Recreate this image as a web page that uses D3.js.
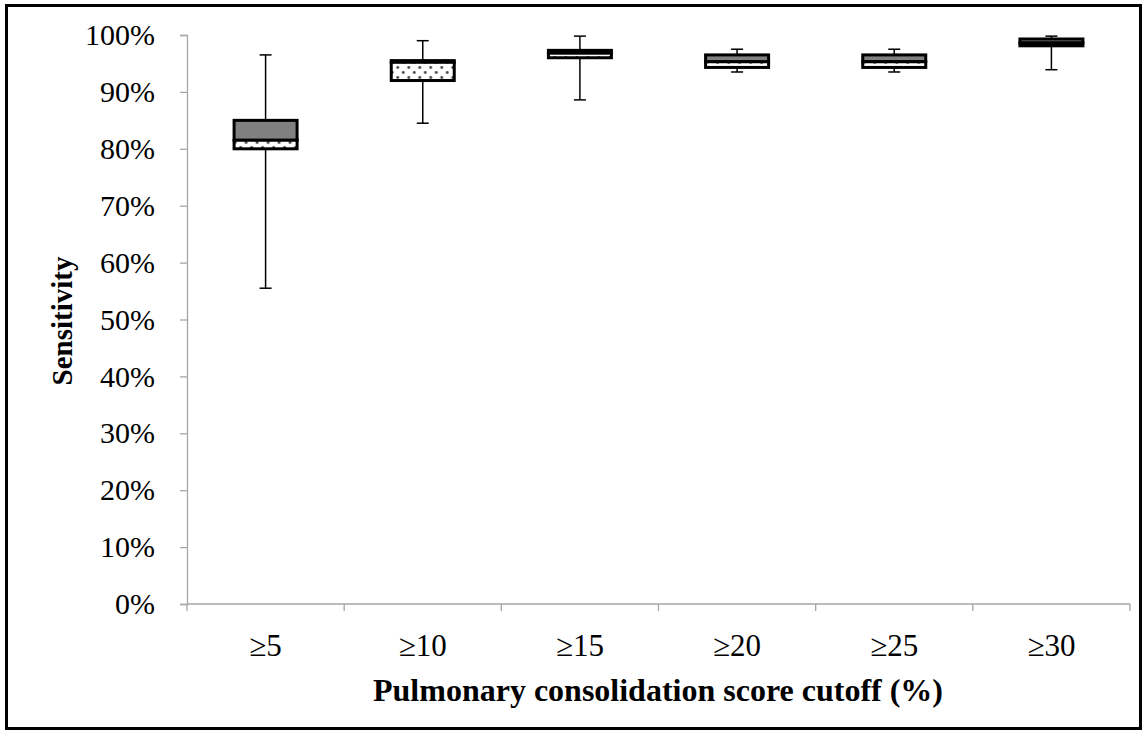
<!DOCTYPE html>
<html>
<head>
<meta charset="utf-8">
<script src="https://cdn.jsdelivr.net/npm/d3@7"></script>
<style>
  html, body { margin: 0; padding: 0; background: #fff; }
  svg { display: block; }
  text { font-family: "Liberation Serif", "Times New Roman", serif; fill: #000; }
</style>
</head>
<body>
<svg id="chart" width="1147" height="735"></svg>
<script>
// Sensitivity distribution for each consolidation score cutoff (percent)
const categories  = ["≥5", "≥10", "≥15", "≥20", "≥25", "≥30"];
const whiskerHigh = [96.5, 99.0, 99.8, 97.5, 97.5, 99.8];
const q3          = [85.0, 95.5, 97.3, 96.5, 96.5, 99.3];
const median      = [81.5, 95.2, 96.8, 95.3, 95.3, 98.6];
const q1          = [80.0, 92.0, 96.0, 94.3, 94.3, 98.1];
const whiskerLow  = [55.5, 84.5, 88.6, 93.5, 93.5, 93.9];
const yTicks      = [0, 10, 20, 30, 40, 50, 60, 70, 80, 90, 100];

const data = categories.map((c, i) => ({
  cat: c, hi: whiskerHigh[i], q3: q3[i], med: median[i], q1: q1[i], lo: whiskerLow[i]
}));

const W = 1147, H = 735;
const plotLeft = 187, plotRight = 1130, plotTop = 35, plotBottom = 604;

const svg = d3.select("#chart");

// dotted fill for the lower half of each box
const defs = svg.append("defs");
const pat = defs.append("pattern")
  .attr("id", "dots").attr("patternUnits", "userSpaceOnUse")
  .attr("width", 11).attr("height", 10);
pat.append("rect").attr("width", 11).attr("height", 10).attr("fill", "#fff");
pat.append("circle").attr("cx", 2.5).attr("cy", 2.5).attr("r", 1.4).attr("fill", "#444");
pat.append("circle").attr("cx", 8).attr("cy", 7.5).attr("r", 1.4).attr("fill", "#444");

// outer frame
svg.append("rect")
  .attr("x", 6.5).attr("y", 5.5).attr("width", W - 13).attr("height", H - 12)
  .attr("fill", "none").attr("stroke", "#000").attr("stroke-width", 3);

const x = d3.scaleBand().domain(categories).range([plotLeft, plotRight]).paddingInner(0).paddingOuter(0);
const y = d3.scaleLinear().domain([0, 100]).range([plotBottom, plotTop]);

// y axis
const yAxis = svg.append("g").attr("transform", `translate(${plotLeft},0)`)
  .call(d3.axisLeft(y).tickValues(yTicks).tickSize(7).tickPadding(25).tickFormat(d => d + "%"));
yAxis.select(".domain").attr("stroke", "#a6a6a6").attr("stroke-width", 1.3);
yAxis.selectAll(".tick line").attr("stroke", "#a6a6a6").attr("stroke-width", 1.3);
yAxis.selectAll(".tick text")
  .attr("font-family", "Liberation Serif").attr("font-size", 30).attr("fill", "#000");

// x axis: ticks sit on the category boundaries
const boundaries = categories.map(c => x(c)).concat([plotRight]);
const xg = svg.append("g");
xg.append("line")
  .attr("x1", plotLeft).attr("x2", plotRight).attr("y1", plotBottom).attr("y2", plotBottom)
  .attr("stroke", "#a6a6a6").attr("stroke-width", 1.3);
xg.selectAll("line.tk").data(boundaries).join("line").attr("class", "tk")
  .attr("x1", d => d).attr("x2", d => d).attr("y1", plotBottom).attr("y2", plotBottom + 7)
  .attr("stroke", "#a6a6a6").attr("stroke-width", 1.3);
xg.selectAll("text").data(categories).join("text")
  .attr("x", d => x(d) + x.bandwidth() / 2).attr("y", 656)
  .attr("text-anchor", "middle").attr("font-size", 31)
  .text(d => d);

// axis titles
svg.append("text")
  .attr("x", 658).attr("y", 701).attr("text-anchor", "middle")
  .attr("font-size", 32).attr("font-weight", "bold")
  .text("Pulmonary consolidation score cutoff (%)");
svg.append("text")
  .attr("transform", `translate(72,321) rotate(-90)`).attr("text-anchor", "middle")
  .attr("font-size", 29).attr("font-weight", "bold")
  .text("Sensitivity");

// boxes
const boxW = 63, capW = 12;
const g = svg.append("g").selectAll("g").data(data).join("g")
  .attr("transform", d => `translate(${x(d.cat) + x.bandwidth() / 2},0)`);

// whiskers
g.append("line").attr("x1", 0).attr("x2", 0)
  .attr("y1", d => y(d.hi)).attr("y2", d => y(d.q3))
  .attr("stroke", "#000").attr("stroke-width", 1.5);
g.append("line").attr("x1", 0).attr("x2", 0)
  .attr("y1", d => y(d.q1)).attr("y2", d => y(d.lo))
  .attr("stroke", "#000").attr("stroke-width", 1.5);
g.append("line").attr("x1", -capW / 2).attr("x2", capW / 2)
  .attr("y1", d => y(d.hi)).attr("y2", d => y(d.hi))
  .attr("stroke", "#000").attr("stroke-width", 1.5);
g.append("line").attr("x1", -capW / 2).attr("x2", capW / 2)
  .attr("y1", d => y(d.lo)).attr("y2", d => y(d.lo))
  .attr("stroke", "#000").attr("stroke-width", 1.5);

// upper half (Q3 to median), gray
g.append("rect")
  .attr("x", -boxW / 2).attr("width", boxW)
  .attr("y", d => y(d.q3)).attr("height", d => y(d.med) - y(d.q3))
  .attr("fill", "#808080").attr("stroke", "#000").attr("stroke-width", 3);
// lower half (median to Q1), dotted
g.append("rect")
  .attr("x", -boxW / 2).attr("width", boxW)
  .attr("y", d => y(d.med)).attr("height", d => y(d.q1) - y(d.med))
  .attr("fill", "url(#dots)").attr("stroke", "#000").attr("stroke-width", 3);
</script>
</body>
</html>
